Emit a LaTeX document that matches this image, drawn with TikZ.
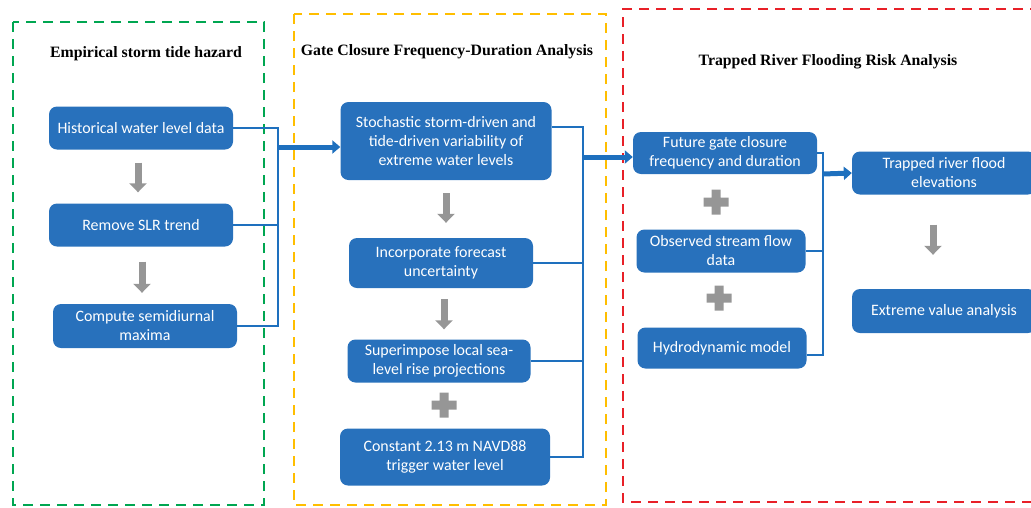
\documentclass[tikz,border=0pt]{standalone}
\usepackage{fontspec}
\setmainfont{Carlito}
\newfontfamily\headfont{Liberation Serif}
\usetikzlibrary{arrows.meta}

\definecolor{boxblue}{RGB}{40,113,188}
\definecolor{linkblue}{RGB}{30,112,190}
\definecolor{stepgray}{RGB}{150,150,150}
\definecolor{panelgreen}{RGB}{0,166,81}
\definecolor{panelorange}{RGB}{255,190,0}
\definecolor{panelred}{RGB}{232,32,40}

\begin{document}
\begin{tikzpicture}[x=1pt,y=-1pt]
\useasboundingbox (0,0) rectangle (1031,507);

\tikzset{panel/.style={dashed,line width=2.4pt,dash pattern=on 10pt off 7pt}};
\tikzset{head/.style={font=\headfont\bfseries\fontsize{15.8}{18}\selectfont}};
\tikzset{blk/.style={fill=boxblue,rounded corners=8pt,text=white,align=center,
  inner sep=2pt,font=\fontsize{15.9}{19}\selectfont}};
\tikzset{link/.style={draw=linkblue,line width=2.8pt}};
\tikzset{feed/.style={draw=linkblue,line width=5pt,-{Triangle[width=13pt,length=8pt]}}};
\tikzset{down/.style={draw=stepgray,line width=7pt,-{Triangle[width=17pt,length=9pt]}}};

% panels
\draw[panel,panelgreen] (13,22) rectangle (264,505);
\draw[panel,panelorange] (294,14) rectangle (606,505);
\draw[panel,panelred] (1040,9) -| (623,502) -- (1040,502);

\node[head] (hazT) at (146,54) {Empirical storm tide hazard};
\node[head] (gateT) at (447,52) {Gate Closure Frequency-Duration Analysis};
\node[head] (riskT) at (828,62) {Trapped River Flooding Risk Analysis};

% empirical storm tide hazard
\node[blk,minimum width=184pt,minimum height=43pt] (hist) at (141,128) {Historical water level data};
\node[blk,minimum width=184pt,minimum height=43pt] (slr) at (141,225) {Remove SLR trend};
\node[blk,minimum width=184pt,minimum height=44pt] (semi) at (145,326) {Compute semidiurnal\\maxima};

% gate closure analysis
\node[blk,minimum width=211pt,minimum height=78pt] (stoch) at (446,141) {Stochastic storm-driven and\\tide-driven variability of\\extreme water levels};
\node[blk,minimum width=184pt,minimum height=50pt] (fcst) at (441,263) {Incorporate forecast\\uncertainty};
\node[blk,minimum width=183pt,minimum height=43pt] (sea) at (439,361) {Superimpose local sea-\\level rise projections};
\node[blk,minimum width=210pt,minimum height=57pt] (trig) at (445,457) {Constant 2.13 m NAVD88\\trigger water level};

% trapped river flooding
\node[blk,minimum width=184pt,minimum height=42pt] (fut) at (725,153) {Future gate closure\\frequency and duration};
\node[blk,minimum width=169pt,minimum height=43pt] (flow) at (721,251) {Observed stream flow\\data};
\node[blk,minimum width=169pt,minimum height=41pt] (hydro) at (722,348) {Hydrodynamic model};
\node[blk,minimum width=184pt,minimum height=43pt] (trap) at (944,173) {Trapped river flood\\elevations};
\node[blk,minimum width=184pt,minimum height=44pt] (ext) at (944,311) {Extreme value analysis};

% buses
\coordinate (hazBus) at (278,147);
\coordinate (gateBus) at (583,157);
\coordinate (riskBus) at (823,174);

\draw[link] (hist.east) -| (hazBus);
\draw[link] (slr.east) -| (hazBus);
\draw[link] (semi.east) -| (hazBus);
\draw[feed] (hazBus) -- (hazBus -| stoch.west);

\draw[link] ([yshift=14pt]stoch.east) -| (gateBus);
\draw[link] (fcst.east) -| (gateBus);
\draw[link] (sea.east) -| (gateBus);
\draw[link] (trig.east) -| (gateBus);
\draw[feed] (gateBus) -- (gateBus -| fut.west);

\draw[link] (fut.east) -| (riskBus);
\draw[link] (flow.east) -| (riskBus);
\draw[link] ([yshift=-7pt]hydro.east) -| (riskBus);
\draw[feed] (riskBus) -- (trap.west);

% gray step arrows
\draw[down,shorten <=13pt,shorten >=11pt] ([xshift=-3pt]hist.south) -- ([xshift=-3pt]slr.north);
\draw[down,shorten <=15pt,shorten >=11pt] ([xshift=1pt]slr.south) -- ([xshift=-3pt]semi.north);
\draw[down,shorten <=13pt,shorten >=15pt] (stoch.south) -- (stoch.south |- fcst.north);
\draw[down,shorten <=11pt,shorten >=10pt] ([xshift=3pt]fcst.south) -- ([xshift=3pt]fcst.south |- sea.north);
\draw[down,shorten <=30pt,shorten >=34pt] ([xshift=-11pt]trap.south) -- ([xshift=-11pt]ext.north);

% plus signs
\foreach \px/\py in {444/405, 716/202, 719/298}
  \fill[stepgray] (\px-12.5,\py-4.5) rectangle (\px+12.5,\py+4.5)
                  (\px-4.5,\py-12.5) rectangle (\px+4.5,\py+12.5);
\end{tikzpicture}
\end{document}
